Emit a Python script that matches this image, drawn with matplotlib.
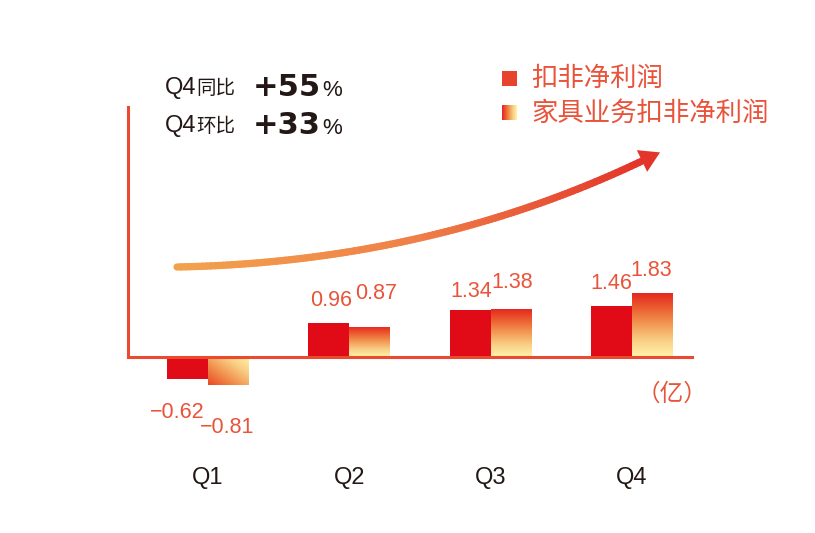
import numpy as np
import matplotlib
matplotlib.use("Agg")
import matplotlib.pyplot as plt
from matplotlib.colors import LinearSegmentedColormap
from matplotlib.collections import LineCollection
from matplotlib.patches import Polygon, Rectangle

plt.rcParams['font.family'] = ['Liberation Sans', 'Noto Sans CJK SC', 'DejaVu Sans']

# data (亿)
quarters = ['Q1', 'Q2', 'Q3', 'Q4']
profit = [-0.62, 0.96, 1.34, 1.46]          # 扣非净利润
furniture = [-0.81, 0.87, 1.38, 1.83]       # 家具业务扣非净利润
series_names = ['扣非净利润', '家具业务扣非净利润']
yoy_text = '+55'
qoq_text = '+33'

W, H = 815, 533
RED = '#e10a17'
LABEL = '#e9533a'
AXIS = '#ea4a30'
DARK = '#231815'

grad = LinearSegmentedColormap.from_list(
    'g', ['#e3241f', '#ec5f31', '#f29a55', '#f9cf85', '#fff4ab'])

fig = plt.figure(figsize=(W / 100, H / 100), dpi=100)
fig.patch.set_facecolor('white')

# main axes: baseline at 357px, 35px per unit, group spacing 141.3px
ymax, ymin = 7.14, -2.0
ax = fig.add_axes([128 / W, (H - 427) / H, 564 / W, 320 / H])
ax.set_xlim(-0.566, 3.4245)
ax.set_ylim(ymin, ymax)
ax.patch.set_alpha(0)
for s in ['top', 'right']:
    ax.spines[s].set_visible(False)
ax.spines['left'].set_bounds(0, ymax)
ax.spines['bottom'].set_position(('data', 0))
for s in ['left', 'bottom']:
    ax.spines[s].set_color(AXIS)
    ax.spines[s].set_linewidth(2.2)
    ax.spines[s].set_zorder(5)
ax.set_xticks([])
ax.set_yticks([])

x = np.arange(len(quarters))
w = 0.29
bars_r = ax.bar(x - w / 2, profit, w, color=RED, zorder=3)
bars_g = ax.bar(x + w / 2, furniture, w, color='none', zorder=3)

# gradient fill for the second series
for b, v in zip(bars_g, furniture):
    x0, x1 = b.get_x(), b.get_x() + b.get_width()
    if v >= 0:
        img = np.linspace(0, 1, 256).reshape(-1, 1)
        im = ax.imshow(img, cmap=grad, aspect='auto', origin='upper',
                       extent=[x0, x1, 0, v], zorder=3)
    else:
        xx, yy = np.meshgrid(np.linspace(0, 1, 64), np.linspace(0, 1, 64))
        img = 0.15 + 0.85 * (xx + yy) / 2
        im = ax.imshow(img, cmap=grad, aspect='auto', origin='lower',
                       extent=[x0, x1, v, 0], zorder=3, vmin=0, vmax=1)
    im.set_clip_path(b)
ax.set_xlim(-0.566, 3.4245)
ax.set_ylim(ymin, ymax)

# value labels (gap in px from bar end, x shift in px)
gap_r = [23, 12, 8, 12]
gap_g = [32, 23, 16, 12]
dx_r = [-10, 2, 1, 0]
dx_g = [-1, 6, 1, -1]
for bars, vals, gaps, dxs in [(bars_r, profit, gap_r, dx_r), (bars_g, furniture, gap_g, dx_g)]:
    for b, v, g, d in zip(bars, vals, gaps, dxs):
        cx = b.get_x() + b.get_width() / 2
        off = g * 0.72 if v >= 0 else -g * 0.72
        ax.annotate(f'{v:.2f}'.replace('-', '\u2212'), (cx, v),
                    xytext=(d * 0.72, off), textcoords='offset points',
                    ha='center', va='bottom' if v >= 0 else 'top',
                    fontsize=15.5, color=LABEL, zorder=6)

# category labels
for xi, q in zip(x, quarters):
    ax.text(xi, -(478 - 357) / 35, q, ha='center', va='center',
            fontsize=17, color=DARK, clip_on=False)

# overlay in pixel coordinates for decorations
ov = fig.add_axes([0, 0, 1, 1])
ov.set_xlim(0, W)
ov.set_ylim(H, 0)
ov.axis('off')
ov.patch.set_alpha(0)

# gradient curved arrow
P0, P1, P2 = np.array([177, 267]), np.array([430, 262]), np.array([642, 161])
t = np.linspace(0, 1, 120)[:, None]
pts = (1 - t) ** 2 * P0 + 2 * (1 - t) * t * P1 + t ** 2 * P2
segs = np.stack([pts[:-1], pts[1:]], axis=1)
acmap = LinearSegmentedColormap.from_list('a', ['#f3a24c', '#ef7f48', '#e3352a'])
lc = LineCollection(segs, colors=acmap(np.linspace(0, 1, len(segs))),
                    linewidths=5.2, capstyle='round', joinstyle='round')
ov.add_collection(lc)
d = (P2 - P1) / np.linalg.norm(P2 - P1)
perp = np.array([-d[1], d[0]])
tip = P2 + 20 * d
head = Polygon([tip, P2 + 12 * perp, P2 - 12 * perp], closed=True,
               color='#e3352a', lw=0)
ov.add_patch(head)

# headline figures
for yy, word, num in [(88, '同比', yoy_text), (126, '环比', qoq_text)]:
    ov.text(165, yy, 'Q4', fontsize=17, color=DARK, va='center', ha='left')
    ov.text(196, yy + 1, word, fontsize=14, color=DARK, va='center', ha='left',
            fontweight='medium')
    ov.text(253, yy - 1, num, fontsize=22, fontweight='bold', color=DARK,
            va='center', ha='left', family='DejaVu Sans')
    ov.text(322, yy + 2, '%', fontsize=16, color=DARK, va='center', ha='left')

# legend
ov.add_patch(Rectangle((502, 71), 15, 15, color='#e8432c', lw=0))
sw = np.linspace(0, 1, 64).reshape(1, -1)
ov.imshow(sw, cmap=grad, aspect='auto', extent=[502, 517, 120, 105])
ov.set_xlim(0, W)
ov.set_ylim(H, 0)
ov.text(531, 79, series_names[0], fontsize=19, color=LABEL, va='center', ha='left',
        fontweight='medium')
ov.text(531, 113, series_names[1], fontsize=19, color=LABEL, va='center', ha='left',
        fontweight='medium')

# unit
ov.text(672, 394, '（亿）', fontsize=17, color=LABEL, va='center', ha='center')

fig.savefig('out.png', dpi=100, facecolor='white')
